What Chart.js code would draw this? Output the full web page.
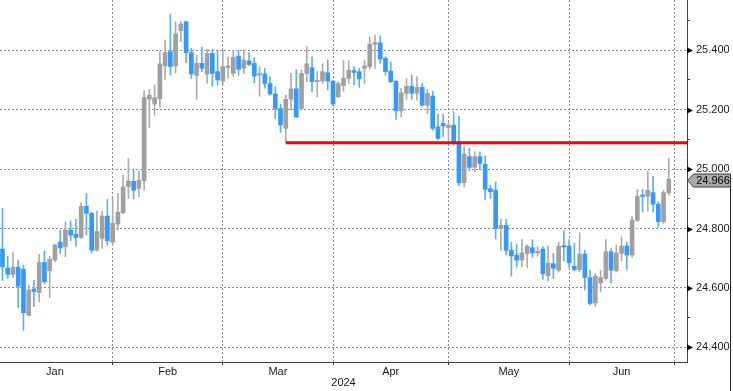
<!DOCTYPE html>
<html>
<head>
<meta charset="utf-8">
<title>Velas diarias 2024</title>
<script src="https://cdn.jsdelivr.net/npm/chart.js@4.4.1/dist/chart.umd.min.js"></script>
<style>
  html, body { margin: 0; padding: 0; background: #fff; }
  #wrap { width: 733px; height: 391px; }
</style>
</head>
<body>
<div id="wrap"><canvas id="myCanvasVelas" width="733" height="391"></canvas></div>
<script>
// daily candles Jan - Jun 2024
var opens = [
  24.731, 24.667, 24.646, 24.670, 24.663, 24.508, 24.597, 24.584, 24.686, 24.658,
  24.694, 24.754, 24.739, 24.795, 24.781, 24.770, 24.875, 24.851, 24.727, 24.767,
  24.842, 24.754, 24.815, 24.853, 24.941, 24.959, 24.935, 24.961, 25.236, 25.219,
  25.237, 25.347, 25.395, 25.347, 25.466, 25.496, 25.392, 25.315, 25.356, 25.320,
  25.389, 25.328, 25.296, 25.342, 25.322, 25.380, 25.339, 25.364, 25.356, 25.316,
  25.320, 25.288, 25.253, 25.204, 25.137, 25.235, 25.270, 25.204, 25.322, 25.341,
  25.294, 25.296, 25.324, 25.296, 25.243, 25.281, 25.305, 25.332, 25.328, 25.339,
  25.345, 25.420, 25.425, 25.373, 25.330, 25.296, 25.196, 25.255, 25.279, 25.255,
  25.275, 25.215, 25.246, 25.142, 25.154, 25.140, 25.148, 25.086, 24.954, 25.042,
  25.006, 25.042, 25.017, 24.934, 24.929, 24.800, 24.811, 24.727, 24.711, 24.694,
  24.716, 24.736, 24.718, 24.731, 24.641, 24.682, 24.660, 24.741, 24.741, 24.673,
  24.662, 24.714, 24.635, 24.550, 24.617, 24.632, 24.722, 24.658, 24.716, 24.741,
  24.711, 24.828, 24.910, 24.909, 24.921, 24.882, 24.823, 24.920
];
var highs = [
  24.868, 24.707, 24.719, 24.694, 24.677, 24.609, 24.626, 24.713, 24.725, 24.707,
  24.746, 24.795, 24.822, 24.825, 24.831, 24.887, 24.918, 24.856, 24.859, 24.859,
  24.898, 24.907, 24.918, 24.980, 25.036, 24.999, 24.994, 25.263, 25.268, 25.283,
  25.395, 25.434, 25.522, 25.496, 25.496, 25.497, 25.406, 25.384, 25.410, 25.403,
  25.403, 25.401, 25.401, 25.378, 25.398, 25.398, 25.401, 25.392, 25.375, 25.345,
  25.339, 25.311, 25.277, 25.219, 25.249, 25.322, 25.335, 25.333, 25.412, 25.378,
  25.328, 25.354, 25.367, 25.297, 25.294, 25.365, 25.365, 25.345, 25.339, 25.367,
  25.445, 25.451, 25.448, 25.378, 25.361, 25.297, 25.272, 25.305, 25.317, 25.311,
  25.288, 25.268, 25.262, 25.185, 25.185, 25.159, 25.193, 25.178, 25.075, 25.070,
  25.058, 25.058, 25.044, 24.946, 24.957, 24.831, 24.831, 24.755, 24.748, 24.763,
  24.745, 24.763, 24.739, 24.739, 24.742, 24.716, 24.755, 24.793, 24.763, 24.750,
  24.786, 24.727, 24.660, 24.649, 24.660, 24.763, 24.733, 24.744, 24.772, 24.755,
  24.840, 24.932, 24.932, 24.994, 24.976, 24.890, 24.929, 25.036
];
var lows = [
  24.626, 24.632, 24.635, 24.533, 24.458, 24.506, 24.537, 24.553, 24.615, 24.567,
  24.688, 24.716, 24.705, 24.759, 24.741, 24.767, 24.778, 24.718, 24.724, 24.733,
  24.744, 24.744, 24.795, 24.850, 24.901, 24.901, 24.907, 24.929, 25.140, 25.182,
  25.208, 25.302, 25.317, 25.324, 25.429, 25.358, 25.305, 25.235, 25.328, 25.288,
  25.279, 25.283, 25.283, 25.305, 25.311, 25.316, 25.322, 25.347, 25.290, 25.245,
  25.272, 25.249, 25.170, 25.123, 25.089, 25.199, 25.174, 25.199, 25.294, 25.260,
  25.243, 25.288, 25.266, 25.212, 25.241, 25.262, 25.288, 25.283, 25.275, 25.288,
  25.336, 25.339, 25.356, 25.316, 25.291, 25.167, 25.176, 25.235, 25.235, 25.232,
  25.212, 25.187, 25.131, 25.098, 25.109, 25.098, 25.081, 24.944, 24.940, 24.994,
  24.991, 24.997, 24.896, 24.901, 24.765, 24.727, 24.711, 24.640, 24.671, 24.671,
  24.669, 24.703, 24.707, 24.630, 24.624, 24.632, 24.654, 24.690, 24.669, 24.658,
  24.654, 24.593, 24.542, 24.537, 24.587, 24.626, 24.617, 24.654, 24.691, 24.662,
  24.703, 24.823, 24.856, 24.860, 24.856, 24.804, 24.817, 24.912
];
var closes = [
  24.671, 24.646, 24.670, 24.606, 24.517, 24.593, 24.588, 24.686, 24.621, 24.697,
  24.745, 24.735, 24.795, 24.778, 24.770, 24.875, 24.851, 24.727, 24.790, 24.842,
  24.759, 24.818, 24.855, 24.940, 24.960, 24.929, 24.963, 25.241, 25.249, 25.240,
  25.354, 25.392, 25.345, 25.455, 25.488, 25.392, 25.320, 25.356, 25.339, 25.389,
  25.322, 25.300, 25.345, 25.347, 25.376, 25.336, 25.367, 25.352, 25.313, 25.322,
  25.288, 25.253, 25.204, 25.148, 25.235, 25.270, 25.175, 25.322, 25.354, 25.294,
  25.299, 25.328, 25.296, 25.219, 25.288, 25.305, 25.333, 25.325, 25.304, 25.347,
  25.421, 25.426, 25.371, 25.328, 25.294, 25.196, 25.257, 25.279, 25.255, 25.275,
  25.215, 25.255, 25.137, 25.103, 25.145, 25.148, 25.086, 24.954, 25.050, 25.006,
  25.042, 25.019, 24.932, 24.924, 24.800, 24.811, 24.727, 24.708, 24.694, 24.718,
  24.741, 24.718, 24.724, 24.648, 24.684, 24.666, 24.741, 24.738, 24.685, 24.662,
  24.714, 24.635, 24.548, 24.640, 24.635, 24.722, 24.660, 24.718, 24.741, 24.711,
  24.828, 24.909, 24.908, 24.929, 24.882, 24.823, 24.921, 24.966
];

// x axis: candle index of the first trading day of each month, and where the month names sit
var monthNames = ['Jan', 'Feb', 'Mar', 'Apr', 'May', 'Jun'];
var monthLabelAt = [10, 31.5, 52.5, 74, 96.5, 118];
var monthStarts = [21, 42, 63, 85, 108, 128];
var yearLabel = '2024';

// y axis ticks (labels every 0.2, small marks every 0.1)
var yTicks = [24.4, 24.5, 24.6, 24.7, 24.8, 24.9, 25.0, 25.1, 25.2, 25.3, 25.4, 25.5];

// red level drawn from the March low, and the last close tag
var levelValue = 25.089;
var levelFromIndex = 54;
var lastValue = 24.966;

var UP = '#a0a0a0', DOWN = '#3399ff';
var UP_WICK = '#acacac', DOWN_WICK = '#5caefc';
var FONT = { family: 'Liberation Sans, Arial, sans-serif', size: 11 };

var isMajor = function(v) {
  return Math.abs(Math.round(v / 0.2) * 0.2 - v) < 1e-6;
};
var isIn = function(list, v) {
  for (var k = 0; k < list.length; k++) {
    if (Math.abs(list[k] - v) < 1e-6) return k;
  }
  return -1;
};

var bodies = [], wicks = [], bodyColors = [], wickColors = [];
for (var i = 0; i < opens.length; i++) {
  var up = closes[i] >= opens[i];
  bodies.push({ x: i, y: [Math.min(opens[i], closes[i]), Math.max(opens[i], closes[i])] });
  wicks.push({ x: i, y: [lows[i], highs[i]] });
  bodyColors.push(up ? UP : DOWN);
  wickColors.push(up ? UP_WICK : DOWN_WICK);
}

// arrows on the price axis, last value tag
var axisExtras = {
  id: 'axisExtras',
  afterDraw: function(chart) {
    var ctx = chart.ctx;
    var ys = chart.scales.y;
    var right = chart.chartArea.right;
    ctx.save();
    ctx.fillStyle = '#000';
    yTicks.forEach(function(v) {
      if (!isMajor(v)) return;
      var py = Math.round(ys.getPixelForValue(v)) + 0.5;
      ctx.beginPath();
      ctx.moveTo(right, py - 3);
      ctx.lineTo(right + 6, py);
      ctx.lineTo(right, py + 3);
      ctx.closePath();
      ctx.fill();
    });

    var ty = Math.round(ys.getPixelForValue(lastValue)) + 1.5;
    ctx.beginPath();
    ctx.moveTo(right + 0.5, ty);
    ctx.lineTo(right + 6.5, ty - 6.5);
    ctx.lineTo(730.5, ty - 6.5);
    ctx.lineTo(730.5, ty + 6.5);
    ctx.lineTo(right + 6.5, ty + 6.5);
    ctx.closePath();
    ctx.fillStyle = '#a9a9a9';
    ctx.fill();
    ctx.strokeStyle = '#3a3a3a';
    ctx.lineWidth = 1;
    ctx.stroke();
    ctx.fillStyle = '#000';
    ctx.font = FONT.size + 'px ' + FONT.family;
    ctx.textAlign = 'center';
    ctx.textBaseline = 'middle';
    ctx.fillText(lastValue.toFixed(3), (right + 6.5 + 730.5) / 2 + 1, ty + 0.5);

    ctx.fillStyle = '#222';
    ctx.fillRect(730, ty + 6.5, 1, chart.height);
    ctx.restore();
  }
};

var grafico = new Chart(document.getElementById('myCanvasVelas'), {
  type: 'bar',
  data: {
    datasets: [
      {
        type: 'line',
        data: [{ x: levelFromIndex, y: levelValue }, { x: 140, y: levelValue }],
        borderColor: '#ff0000',
        borderWidth: 3,
        pointRadius: 0,
        order: 0
      },
      {
        data: bodies,
        backgroundColor: bodyColors,
        barThickness: 4,
        minBarLength: 1.5,
        grouped: false,
        order: 1
      },
      {
        data: wicks,
        backgroundColor: wickColors,
        barThickness: 1,
        grouped: false,
        order: 2
      }
    ]
  },
  options: {
    responsive: false,
    devicePixelRatio: 1,
    animation: false,
    layout: { padding: 0 },
    plugins: {
      legend: { display: false },
      tooltip: { enabled: false }
    },
    scales: {
      x: {
        type: 'linear',
        min: -0.47,
        max: 130.47,
        bounds: 'data',
        offset: false,
        afterBuildTicks: function(s) {
          s.ticks = monthStarts.concat(monthLabelAt).sort(function(a, b) { return a - b; })
            .map(function(v) { return { value: v }; });
        },
        afterFit: function(s) {
          s.height = 29;
          s.paddingLeft = 0;
          s.paddingRight = 0;
        },
        grid: {
          offset: false,
          color: function(c) {
            return c.tick && isIn(monthStarts, c.tick.value) >= 0 ? '#8c8c8c' : 'rgba(0,0,0,0)';
          },
          tickColor: function(c) {
            return c.tick && isIn(monthStarts, c.tick.value) >= 0 ? '#333' : 'rgba(0,0,0,0)';
          },
          tickLength: 3
        },
        border: { color: '#404040', width: 1, dash: [2, 2] },
        ticks: {
          autoSkip: false,
          maxRotation: 0,
          padding: 0,
          color: '#1a1a1a',
          font: FONT,
          callback: function(v) {
            var k = isIn(monthLabelAt, v);
            return k >= 0 ? monthNames[k] : '';
          }
        },
        title: {
          display: true,
          text: yearLabel,
          color: '#1a1a1a',
          font: FONT,
          padding: { top: 0, bottom: 1 }
        }
      },
      y: {
        type: 'linear',
        position: 'right',
        min: 24.351,
        max: 25.569,
        bounds: 'data',
        afterBuildTicks: function(s) {
          s.ticks = yTicks.map(function(v) { return { value: v }; });
        },
        afterFit: function(s) {
          s.width = 46;
          s.paddingTop = 0;
          s.paddingBottom = 0;
        },
        grid: {
          color: function(c) {
            return c.tick && isMajor(c.tick.value) ? '#8c8c8c' : 'rgba(0,0,0,0)';
          },
          tickColor: '#333',
          tickLength: 3
        },
        border: { color: '#404040', width: 1, dash: [2, 2] },
        ticks: {
          autoSkip: false,
          padding: 6,
          color: '#1a1a1a',
          font: FONT,
          callback: function(v) {
            return isMajor(v) ? v.toFixed(3) : '';
          }
        }
      }
    }
  },
  plugins: [axisExtras]
});
</script>
</body>
</html>
